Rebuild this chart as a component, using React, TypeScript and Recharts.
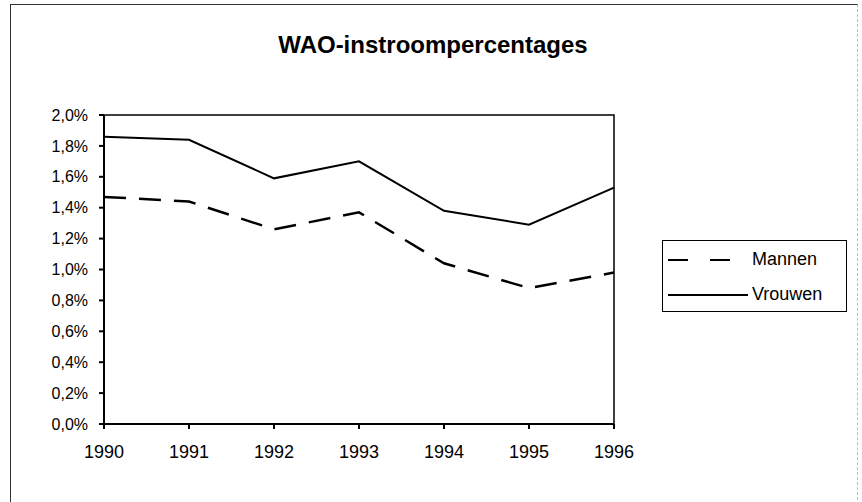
import React from 'react';
import { LineChart, Line, XAxis, YAxis, Legend, ReferenceArea } from 'recharts';

const years = ['1990', '1991', '1992', '1993', '1994', '1995', '1996'];
const mannen = [1.47, 1.44, 1.26, 1.37, 1.04, 0.88, 0.98];
const vrouwen = [1.86, 1.84, 1.59, 1.70, 1.38, 1.29, 1.53];
const yTicks = [0, 0.2, 0.4, 0.6, 0.8, 1.0, 1.2, 1.4, 1.6, 1.8, 2.0];
const title = 'WAO-instroompercentages';

const data = years.map((y, i) => ({ year: y, Mannen: mannen[i], Vrouwen: vrouwen[i] }));

const FONT = '"Liberation Sans", Arial, sans-serif';

const fmt = (v: number) => v.toFixed(1).replace('.', ',') + '%';

const renderLegend = (props: any) => {
  const payload = props.payload || [];
  return (
    <div
      style={{
        border: '1px solid #000',
        width: 185,
        height: 72,
        boxSizing: 'border-box',
        padding: '1px 0 0 5px',
        fontFamily: FONT,
        fontSize: 18,
        color: '#000',
        background: '#fff',
      }}
    >
      {payload.map((p: any) => (
        <div key={p.value} style={{ display: 'flex', alignItems: 'center', height: 35 }}>
          <svg width={82} height={10} style={{ display: 'block' }}>
            <line
              x1={0}
              y1={5}
              x2={p.value === 'Mannen' ? 70 : 80}
              y2={5}
              stroke="#000"
              strokeWidth={2}
              strokeDasharray={p.value === 'Mannen' ? '20 22' : undefined}
            />
          </svg>
          <span style={{ marginLeft: 2 }}>{p.value}</span>
        </div>
      ))}
    </div>
  );
};

export default function App() {
  return (
    <div style={{ position: 'absolute', left: 0, top: 0, width: 862, height: 502, background: '#fff', overflow: 'hidden' }}>
      <div
        style={{
          position: 'absolute',
          left: 10,
          top: 4,
          width: 846,
          height: 520,
          borderLeft: '1px solid #333',
          borderTop: '1px solid #333',
          borderRight: '1px dashed #bbb',
        }}
      />
      <div
        style={{
          position: 'absolute',
          left: 0,
          top: 31,
          width: 866,
          textAlign: 'center',
          fontFamily: FONT,
          fontSize: 24,
          lineHeight: '28px',
          fontWeight: 'bold',
          color: '#000',
        }}
      >
        {title}
      </div>
      <div style={{ position: 'absolute', left: 0, top: 0 }}>
        <LineChart
          width={862}
          height={502}
          data={data}
          margin={{ top: 115, left: 44, right: 248, bottom: 48 }}
        >
          <ReferenceArea
            x1="1990"
            x2="1996"
            y1={0}
            y2={2}
            stroke="#000"
            strokeWidth={1.5}
            fill="none"
            fillOpacity={0}
          />
          <XAxis
            dataKey="year"
            height={30}
            tickSize={5}
            tickMargin={16}
            stroke="#000"
            strokeWidth={2}
            tick={{ fill: '#000', fontSize: 18, fontFamily: FONT }}
            interval={0}
          />
          <YAxis
            width={60}
            domain={[0, 2]}
            ticks={yTicks}
            tickFormatter={fmt}
            tickSize={5}
            tickMargin={11}
            stroke="#000"
            strokeWidth={2}
            tick={{ fill: '#000', fontSize: 16, fontFamily: FONT }}
            interval={0}
          />
          <Line
            dataKey="Mannen"
            stroke="#000"
            strokeWidth={2.5}
            strokeDasharray="22 13"
            dot={false}
            isAnimationActive={false}
          />
          <Line
            dataKey="Vrouwen"
            stroke="#000"
            strokeWidth={2}
            dot={false}
            isAnimationActive={false}
          />
          <Legend
            content={renderLegend}
            layout="horizontal"
            verticalAlign="middle"
            align="center"
            wrapperStyle={{ position: 'absolute', left: 662, top: 240, width: 185 }}
          />
        </LineChart>
      </div>
    </div>
  );
}
